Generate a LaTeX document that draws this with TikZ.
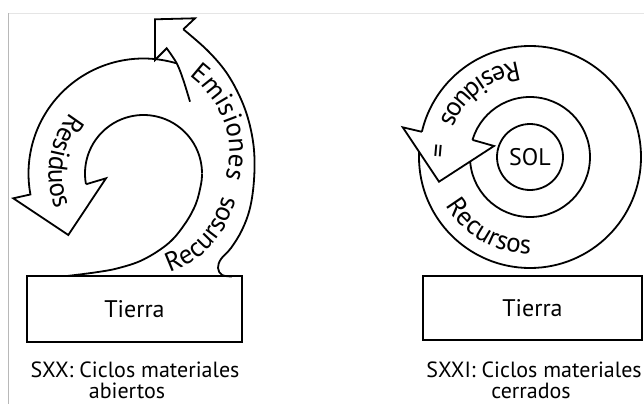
\documentclass[tikz,border=0pt]{standalone}
\usepackage{fontspec}
\setmainfont{PT Sans}
\usetikzlibrary{decorations.text}
\newcommand\ringfont{\fontsize{27}{30}\selectfont}
\begin{document}
\begin{tikzpicture}[x=1pt,y=-1pt,
  ln/.style={line width=1.8pt},
  boxnode/.style={draw, line width=1.8pt, inner sep=0pt, font=\fontsize{24}{28}\selectfont},
  captext/.style={anchor=base, inner sep=0pt, font=\fontsize{22}{24}\selectfont},
  ringtext/.style={decorate, decoration={text along path, text align=center, text={|\ringfont|#1}}}]
\useasboundingbox (0,0) rectangle (644,404);
% screenshot frame
\draw[black!10, line width=0.8pt] (8,13) -- (644,13);
\draw[black!28, line width=0.9pt] (8,13) -- (8,404);

% ---------- left: open cycles ----------
\node[boxnode, minimum width=215pt, minimum height=66pt] (tierraA) at (134.5,309) {Tierra};
\node[captext] (capA1) at (135,377) {SXX: Ciclos materiales};
\node[captext] (capA2) at (127,398) {abiertos};

% Residuos outer edge and arrowhead
\draw[ln] plot[domain=73.6:190.5, samples=90] ({143.5+115*cos(\x)},{173.5-115*sin(\x)})
  -- (13.3,198.3) -- (68.3,235) -- (106,178.3) -- (86.2,184.2);
% inner spiral
\draw[ln] plot[domain=0:1, samples=90] ({143.5+58.5*cos(190.5-190.5*\x)},{173.5-58.5*sin(190.5-190.5*\x)});
\draw[ln] plot[smooth, tension=0.6] coordinates {(202,173.5) (201.1,183.7) (195.9,203.8) (185.3,223.3) (168.8,243.0) (143.5,259.5) (118.1,268.2) (95.3,272.4) (67,276)};
% Emisiones arrow
\draw[ln] plot[smooth, tension=0.6] coordinates {(190,101.7) (183.3,80) (176.7,63.3) (166.7,48.3)}
  -- (155,60) -- (155,19.3) -- (195,18.3) -- (183.3,29.3);
\draw[ln] plot[smooth, tension=0.6] coordinates {(183.3,29.3) (207,50) (226,72) (240,97) (249,122) (254,150) (254,180) (250,208) (242,230) (231,248) (221,259) (218,268) (222,275) (232,276.5)};

\path[ringtext=Residuos] plot[domain=120:222, samples=60] ({143.5+95*cos(\x)},{173.5-95*sin(\x)});
\path[ringtext=Emisiones] plot[domain=0:1, samples=60] ({143.5+(81+0.39*(80-92*\x))*cos(75-92*\x)},{173.5-(81+0.39*(80-92*\x))*sin(75-92*\x)});
\path[ringtext=Recursos] plot[domain=-88:-2, samples=60] ({143.5+(102-0.111*(\x+74))*cos(\x)},{173.5-(102-0.111*(\x+74))*sin(\x)});

% ---------- right: closed cycles ----------
\node[boxnode, minimum width=219pt, minimum height=64pt] (tierraB) at (532.5,308) {Tierra};
\node[captext] (capB1) at (534,377) {SXXI: Ciclos materiales};
\node[captext] (capB2) at (531,398) {cerrados};

\coordinate (rc) at (530,157);
\draw[ln] (rc) circle[radius=111pt];
\draw[ln] (rc) circle[radius=60pt];
\node[draw, circle, line width=1.8pt, minimum size=66pt, inner sep=0pt, font=\fontsize{24}{28}\selectfont] (sol) at (rc) {SOL};

\coordinate (on) at (421.9,131.8);
\coordinate (ob) at (402.7,127.3);
\coordinate (tip) at (439,181.7);
\coordinate (ib) at (494,146);
\coordinate (in) at (472.5,139.9);
\fill[white] (on) -- (ob) -- (tip) -- (ib) -- (in) -- cycle;
\draw[ln] (on) -- (ob) -- (tip) -- (ib) -- (in);
\node[rotate=85, font=\fontsize{27}{27}\selectfont] (eq) at (441,151) {=};

\path[ringtext=Residuos] plot[domain=88:168, samples=60] ({530+96*cos(\x)},{157-96*sin(\x)});
\path[ringtext=Recursos] plot[domain=200:280, samples=60] ({530+97*cos(\x)},{157-97*sin(\x)});
\end{tikzpicture}
\end{document}
